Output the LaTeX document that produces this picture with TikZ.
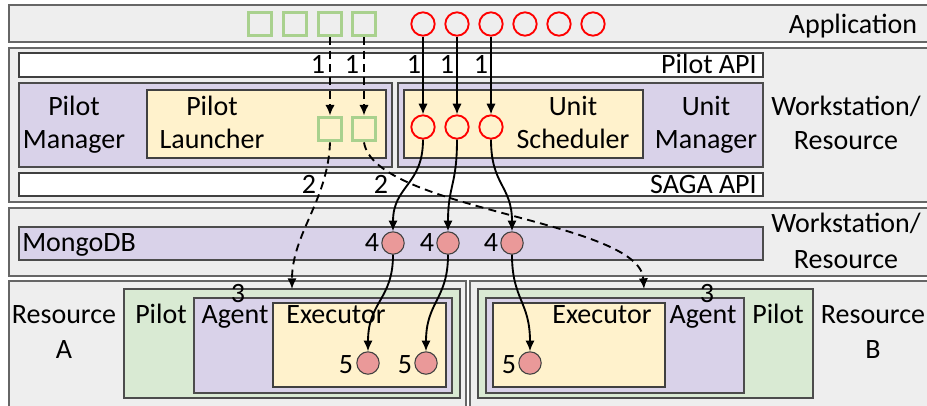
\documentclass[tikz,border=0pt]{standalone}
\usepackage{fontspec}
\setmainfont{Carlito}
\usetikzlibrary{arrows.meta}

\definecolor{layerfill}{RGB}{238,238,238}
\definecolor{mgrfill}{RGB}{217,210,233}
\definecolor{compfill}{RGB}{255,242,204}
\definecolor{pilotfill}{RGB}{217,234,211}
\definecolor{jobgreen}{RGB}{169,209,142}
\definecolor{unitpink}{RGB}{234,153,153}

\tikzset{
  layer/.style={draw=black!60, fill=layerfill, line width=0.9pt},
  apibar/.style={draw=black!75, fill=white, line width=0.9pt},
  mgrbox/.style={draw=black!70, fill=mgrfill, line width=0.9pt},
  compbox/.style={draw=black!75, fill=compfill, line width=0.9pt},
  pilotbox/.style={draw=black!70, fill=pilotfill, line width=0.9pt},
  pilotjob/.style={draw=jobgreen, line width=2.3pt, minimum size=17.8pt, inner sep=0pt},
  cunit/.style={circle, draw=red, line width=1.4pt, minimum size=17.5pt, inner sep=0pt},
  dbunit/.style={circle, draw=black!75, fill=unitpink, line width=0.8pt, minimum size=16.8pt, inner sep=0pt},
  txt/.style={anchor=base, inner sep=0pt},
  flow/.style={line width=1.4pt, -{Latex[length=8pt,width=7pt]}},
  launch/.style={flow, dash pattern=on 6pt off 4pt},
}

\begin{document}
\begin{tikzpicture}[x=0.75pt,y=0.75pt,yscale=-1,xscale=1,font=\fontsize{21}{25}\selectfont]
  \useasboundingbox (0,0) rectangle (927,405);
  %Application layer
  \draw[layer] (9,5) rectangle (940,42);
  %Workstation layer
  \draw[layer] (9,48) rectangle (940,202);
  \draw[apibar] (19,53) rectangle (763,77);
  \draw[mgrbox] (19,83) rectangle (392,167);
  \draw[compbox] (147,90) rectangle (386,158);
  \draw[mgrbox] (398,83) rectangle (763,167);
  \draw[compbox] (404,90) rectangle (643,158);
  \draw[apibar] (19,173) rectangle (763,196);
  %Database layer
  \draw[layer] (9,208) rectangle (940,276);
  \draw[mgrbox] (19,227) rectangle (763,260);
  %Resource A
  \draw[layer] (9,281) rectangle (466,415);
  \draw[pilotbox] (124,289) rectangle (460,398);
  \draw[mgrbox] (194,298) rectangle (452,393);
  \draw[compbox] (273,303) rectangle (446,387);
  %Resource B
  \draw[layer] (470,281) rectangle (940,415);
  \draw[pilotbox] (478,289) rectangle (813,398);
  \draw[mgrbox] (486,298) rectangle (744,393);
  \draw[compbox] (493,303) rectangle (665,387);

  % Text Node
  \node[txt] (tapp) at (853,33) {Application};
  \node[txt, anchor=base east] (tpapi) at (757,73) {Pilot API};
  \node[txt, anchor=base east] (tsaga) at (757,193) {SAGA API};
  \node[txt] (tws1) at (846,115) {Workstation/};
  \node[txt] (tres1) at (846,149) {Resource};
  \node[txt] (tpm1) at (74,115) {Pilot};
  \node[txt] (tpm2) at (74,148) {Manager};
  \node[txt] (tpl1) at (212,115) {Pilot};
  \node[txt] (tpl2) at (212,148) {Launcher};
  \node[txt] (tus1) at (573,115) {Unit};
  \node[txt] (tus2) at (573,148) {Scheduler};
  \node[txt] (tum1) at (706,115) {Unit};
  \node[txt] (tum2) at (706,148) {Manager};
  \node[txt, anchor=base west] (tmongo) at (22,251) {MongoDB};
  \node[txt] (tws2) at (846,232) {Workstation/};
  \node[txt] (tres2) at (846,268) {Resource};
  % Text Node
  \node[txt] (tresA1) at (64,323) {Resource};
  \node[txt] (tresA2) at (64,358) {A};
  \node[txt] (tpilotA) at (161,323) {Pilot};
  \node[txt] (tagentA) at (235,323) {Agent};
  \node[txt] (texecA) at (336,323) {Executor};
  \node[txt] (tthreeA) at (238,302) {3};
  \node[txt] (tresB1) at (873,323) {Resource};
  \node[txt] (tresB2) at (873,358) {B};
  \node[txt] (tpilotB) at (778,323) {Pilot};
  \node[txt] (tagentB) at (703,323) {Agent};
  \node[txt] (texecB) at (602,323) {Executor};
  \node[txt] (tthreeB) at (707,302) {3};
  % Step numbers
  \node[txt] (tone1) at (318,73) {1};
  \node[txt] (tone2) at (352,73) {1};
  \node[txt] (tone3) at (414,73) {1};
  \node[txt] (tone4) at (447,73) {1};
  \node[txt] (tone5) at (481,73) {1};
  \node[txt] (ttwo1) at (309,193) {2};
  \node[txt] (ttwo2) at (381,193) {2};
  \node[txt] (tfour1) at (372,251) {4};
  \node[txt] (tfour2) at (427,251) {4};
  \node[txt] (tfour3) at (491,251) {4};
  \node[txt] (tfive1) at (346,373) {5};
  \node[txt] (tfive2) at (405,373) {5};
  \node[txt] (tfive3) at (509,373) {5};

  %Pilot descriptions
  \node[pilotjob] (jobA) at (260,24) {};
  \node[pilotjob] (jobB) at (295,24) {};
  \node[pilotjob] (jobC) at (330,24) {};
  \node[pilotjob] (jobD) at (364,24) {};
  \node[pilotjob] (ljobC) at (330,129) {};
  \node[pilotjob] (ljobD) at (364,129) {};
  %Compute units
  \node[cunit] (cuA) at (423,24) {};
  \node[cunit] (cuB) at (457,24) {};
  \node[cunit] (cuC) at (491,24) {};
  \node[cunit] (cuD) at (525,24) {};
  \node[cunit] (cuE) at (559,24) {};
  \node[cunit] (cuF) at (593,24) {};
  \node[cunit] (lcuA) at (423,127) {};
  \node[cunit] (lcuB) at (457,127) {};
  \node[cunit] (lcuC) at (491,127) {};
  \node[dbunit] (dbA) at (393,243) {};
  \node[dbunit] (dbB) at (448,243) {};
  \node[dbunit] (dbC) at (512,243) {};
  \node[dbunit] (exA) at (368,363) {};
  \node[dbunit] (exB) at (426,363) {};
  \node[dbunit] (exC) at (530,363) {};
  \coordinate (pilotAin) at (292,289);
  \coordinate (pilotBin) at (644,289);

  %Connectors
  \draw[launch] (jobC) -- (ljobC);
  \draw[launch] (jobD) -- (ljobD);
  \draw[flow] (cuA) -- (lcuA);
  \draw[flow] (cuB) -- (lcuB);
  \draw[flow] (cuC) -- (lcuC);
  \draw[launch] (ljobC.south) .. controls +(-2,58) and +(0,-55) .. (pilotAin);
  \draw[launch] (ljobD.south) .. controls +(11,68) and +(-4,-69) .. (pilotBin);
  \draw[flow] (lcuA.south) .. controls +(0,46) and +(0,-46) .. (dbA.north);
  \draw[flow] (lcuB.south) .. controls +(0,46) and +(0,-46) .. (dbB.north);
  \draw[flow] (lcuC.south) .. controls +(0,46) and +(0,-46) .. (dbC.north);
  \draw[flow] (dbA.south) .. controls +(0,45) and +(0,-50) .. (exA.north);
  \draw[flow] (dbB.south) .. controls +(0,45) and +(0,-50) .. (exB.north);
  \draw[flow] (dbC.south) .. controls +(0,45) and +(0,-50) .. (exC.north);
\end{tikzpicture}
\end{document}
